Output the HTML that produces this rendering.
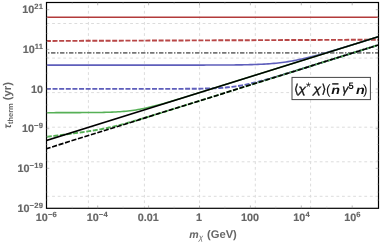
<!DOCTYPE html>
<html><head><meta charset="utf-8"><title>plot</title><style>html,body{margin:0;padding:0;background:#fff}body{width:382px;height:245px;overflow:hidden}</style></head><body>
<svg width="382" height="245" viewBox="0 0 382 245" style="display:block;text-rendering:geometricPrecision;will-change:transform">
<rect width="382" height="245" fill="#fff"/>
<defs><clipPath id="c"><rect x="46.5" y="2.5" width="332.0" height="205.8"/></clipPath></defs>
<g stroke="#dcdcdc" stroke-width="1" stroke-dasharray="2.8 2.775" fill="none">
<path d="M88.4 208.75 V2.5"/>
<path d="M144.4 208.75 V2.5"/>
<path d="M199.6 208.75 V2.5"/>
<path d="M255.3 208.75 V2.5"/>
<path d="M310.6 208.75 V2.5"/>
<path d="M46.55 23.5 H378.5"/>
<path d="M46.55 58.1 H378.5"/>
<path d="M46.55 92.6 H378.5"/>
<path d="M46.55 127.2 H378.5"/>
<path d="M46.55 161.8 H378.5"/>
<path d="M46.55 196.3 H378.5"/>
</g>
<g clip-path="url(#c)" fill="none" stroke-linecap="butt">
<path d="M46.2 17.3 H381" stroke="#b23a3a" stroke-width="1.4"/>
<path d="M45.9 40.95 L381 39.7" stroke="#b84646" stroke-width="1.9" stroke-dasharray="5.0 1.63"/>
<path d="M42.04 52.9 H381" stroke="#767676" stroke-width="1.8" stroke-dasharray="4.4 1.625 1.35 1.625"/>
<path d="M44.00 65.10 L46.00 65.10 L48.00 65.10 L50.00 65.10 L52.00 65.10 L54.00 65.10 L56.00 65.10 L58.00 65.10 L60.00 65.10 L62.00 65.10 L64.00 65.10 L66.00 65.10 L68.00 65.10 L70.00 65.10 L72.00 65.10 L74.00 65.10 L76.00 65.10 L78.00 65.10 L80.00 65.10 L82.00 65.10 L84.00 65.10 L86.00 65.10 L88.00 65.10 L90.00 65.10 L92.00 65.10 L94.00 65.10 L96.00 65.10 L98.00 65.10 L100.00 65.10 L102.00 65.10 L104.00 65.10 L106.00 65.10 L108.00 65.10 L110.00 65.10 L112.00 65.10 L114.00 65.10 L116.00 65.10 L118.00 65.10 L120.00 65.10 L122.00 65.10 L124.00 65.10 L126.00 65.10 L128.00 65.10 L130.00 65.10 L132.00 65.10 L134.00 65.10 L136.00 65.10 L138.00 65.10 L140.00 65.10 L142.00 65.10 L144.00 65.10 L146.00 65.10 L148.00 65.10 L150.00 65.10 L152.00 65.10 L154.00 65.10 L156.00 65.10 L158.00 65.10 L160.00 65.10 L162.00 65.10 L164.00 65.10 L166.00 65.10 L168.00 65.10 L170.00 65.10 L172.00 65.10 L174.00 65.10 L176.00 65.10 L178.00 65.10 L180.00 65.09 L182.00 65.09 L184.00 65.09 L186.00 65.09 L188.00 65.09 L190.00 65.09 L192.00 65.09 L194.00 65.09 L196.00 65.09 L198.00 65.08 L200.00 65.08 L202.00 65.08 L204.00 65.08 L206.00 65.07 L208.00 65.07 L210.00 65.06 L212.00 65.06 L214.00 65.05 L216.00 65.05 L218.00 65.04 L220.00 65.03 L222.00 65.02 L224.00 65.01 L226.00 65.00 L228.00 64.99 L230.00 64.97 L232.00 64.96 L234.00 64.94 L236.00 64.92 L238.00 64.89 L240.00 64.87 L242.00 64.84 L244.00 64.80 L246.00 64.76 L248.00 64.72 L250.00 64.67 L252.00 64.61 L254.00 64.55 L256.00 64.48 L258.00 64.40 L260.00 64.32 L262.00 64.22 L264.00 64.11 L266.00 63.99 L268.00 63.86 L270.00 63.71 L272.00 63.55 L274.00 63.37 L276.00 63.18 L278.00 62.97 L280.00 62.74 L282.00 62.49 L284.00 62.22 L286.00 61.94 L288.00 61.63 L290.00 61.31 L292.00 60.96 L294.00 60.60 L296.00 60.21 L298.00 59.81 L300.00 59.39 L302.00 58.95 L304.00 58.50 L306.00 58.03 L308.00 57.54 L310.00 57.05 L312.00 56.54 L314.00 56.02 L316.00 55.49 L318.00 54.94 L320.00 54.39 L322.00 53.84 L324.00 53.27 L326.00 52.70 L328.00 52.12 L330.00 51.54 L332.00 50.95 L334.00 50.36 L336.00 49.76 L338.00 49.17 L340.00 48.56 L342.00 47.96 L344.00 47.35 L346.00 46.74 L348.00 46.13 L350.00 45.52 L352.00 44.91 L354.00 44.29 L356.00 43.67 L358.00 43.06 L360.00 42.44 L362.00 41.82 L364.00 41.20 L366.00 40.58 L368.00 39.96 L370.00 39.34 L372.00 38.71 L374.00 38.09 L376.00 37.47 L378.00 36.85 L380.00 36.22" stroke="#5e5ebb" stroke-width="1.6"/>
<path d="M45.90 88.90 L47.90 88.90 L49.90 88.90 L51.90 88.90 L53.90 88.90 L55.90 88.90 L57.90 88.90 L59.90 88.90 L61.90 88.90 L63.90 88.90 L65.90 88.90 L67.90 88.90 L69.90 88.90 L71.90 88.90 L73.90 88.90 L75.90 88.90 L77.90 88.90 L79.90 88.90 L81.90 88.90 L83.90 88.90 L85.90 88.90 L87.90 88.90 L89.90 88.90 L91.90 88.90 L93.90 88.90 L95.90 88.90 L97.90 88.90 L99.90 88.90 L101.90 88.90 L103.90 88.90 L105.90 88.90 L107.90 88.90 L109.90 88.90 L111.90 88.90 L113.90 88.90 L115.90 88.90 L117.90 88.90 L119.90 88.90 L121.90 88.90 L123.90 88.90 L125.90 88.90 L127.90 88.90 L129.90 88.90 L131.90 88.90 L133.90 88.90 L135.90 88.90 L137.90 88.90 L139.90 88.90 L141.90 88.90 L143.90 88.90 L145.90 88.90 L147.90 88.90 L149.90 88.89 L151.90 88.89 L153.90 88.89 L155.90 88.89 L157.90 88.89 L159.90 88.89 L161.90 88.89 L163.90 88.89 L165.90 88.88 L167.90 88.88 L169.90 88.88 L171.90 88.87 L173.90 88.87 L175.90 88.86 L177.90 88.86 L179.90 88.85 L181.90 88.84 L183.90 88.83 L185.90 88.82 L187.90 88.81 L189.90 88.79 L191.90 88.78 L193.90 88.76 L195.90 88.73 L197.90 88.71 L199.90 88.68 L201.90 88.64 L203.90 88.60 L205.90 88.55 L207.90 88.50 L209.90 88.44 L211.90 88.36 L213.90 88.28 L215.90 88.19 L217.90 88.08 L219.90 87.96 L221.90 87.83 L223.90 87.67 L225.90 87.50 L227.90 87.31 L229.90 87.10 L231.90 86.87 L233.90 86.61 L235.90 86.33 L237.90 86.03 L239.90 85.70 L241.90 85.35 L243.90 84.98 L245.90 84.58 L247.90 84.17 L249.90 83.73 L251.90 83.27 L253.90 82.79 L255.90 82.30 L257.90 81.80 L259.90 81.27 L261.90 80.74 L263.90 80.20 L265.90 79.64 L267.90 79.08 L269.90 78.51 L271.90 77.93 L273.90 77.34 L275.90 76.75 L277.90 76.16 L279.90 75.56 L281.90 74.95 L283.90 74.35 L285.90 73.74 L287.90 73.13 L289.90 72.52 L291.90 71.90 L293.90 71.29 L295.90 70.67 L297.90 70.05 L299.90 69.43 L301.90 68.81 L303.90 68.19 L305.90 67.57 L307.90 66.95 L309.90 66.33 L311.90 65.70 L313.90 65.08 L315.90 64.46 L317.90 63.83 L319.90 63.21 L321.90 62.59 L323.90 61.96 L325.90 61.34 L327.90 60.71 L329.90 60.09 L331.90 59.47 L333.90 58.84 L335.90 58.22 L337.90 57.59 L339.90 56.97 L341.90 56.34 L343.90 55.72 L345.90 55.09 L347.90 54.47 L349.90 53.84 L351.90 53.22 L353.90 52.59 L355.90 51.97 L357.90 51.34 L359.90 50.72 L361.90 50.09 L363.90 49.47 L365.90 48.84 L367.90 48.22 L369.90 47.59 L371.90 46.97 L373.90 46.34 L375.90 45.72 L377.90 45.09 L379.90 44.47" stroke="#5e5ebb" stroke-width="1.9" stroke-dasharray="5.0 1.63"/>
<path d="M44.00 112.65 L46.00 112.65 L48.00 112.65 L50.00 112.65 L52.00 112.65 L54.00 112.65 L56.00 112.64 L58.00 112.64 L60.00 112.64 L62.00 112.64 L64.00 112.64 L66.00 112.64 L68.00 112.63 L70.00 112.63 L72.00 112.63 L74.00 112.62 L76.00 112.62 L78.00 112.62 L80.00 112.61 L82.00 112.60 L84.00 112.59 L86.00 112.58 L88.00 112.57 L90.00 112.56 L92.00 112.54 L94.00 112.52 L96.00 112.50 L98.00 112.47 L100.00 112.44 L102.00 112.41 L104.00 112.37 L106.00 112.32 L108.00 112.26 L110.00 112.20 L112.00 112.12 L114.00 112.04 L116.00 111.94 L118.00 111.83 L120.00 111.70 L122.00 111.55 L124.00 111.38 L126.00 111.20 L128.00 110.99 L130.00 110.76 L132.00 110.50 L134.00 110.22 L136.00 109.91 L138.00 109.58 L140.00 109.23 L142.00 108.84 L144.00 108.44 L146.00 108.01 L148.00 107.56 L150.00 107.09 L152.00 106.60 L154.00 106.10 L156.00 105.58 L158.00 105.05 L160.00 104.50 L162.00 103.95 L164.00 103.38 L166.00 102.81 L168.00 102.23 L170.00 101.64 L172.00 101.05 L174.00 100.45 L176.00 99.85 L178.00 99.25 L180.00 98.64 L182.00 98.03 L184.00 97.42 L186.00 96.80 L188.00 96.19 L190.00 95.57 L192.00 94.95 L194.00 94.33 L196.00 93.71 L198.00 93.09 L200.00 92.47 L202.00 91.85 L204.00 91.22 L206.00 90.60 L208.00 89.98 L210.00 89.35 L212.00 88.73 L214.00 88.11 L216.00 87.48 L218.00 86.86 L220.00 86.23 L222.00 85.61 L224.00 84.98 L226.00 84.36 L228.00 83.74 L230.00 83.11 L232.00 82.49 L234.00 81.86 L236.00 81.24 L238.00 80.61 L240.00 79.99 L242.00 79.36 L244.00 78.74 L246.00 78.11 L248.00 77.49 L250.00 76.86 L252.00 76.24 L254.00 75.61 L256.00 74.99 L258.00 74.36 L260.00 73.74 L262.00 73.11 L264.00 72.49 L266.00 71.86 L268.00 71.24 L270.00 70.61 L272.00 69.99 L274.00 69.36 L276.00 68.74 L278.00 68.11 L280.00 67.49 L282.00 66.86 L284.00 66.24 L286.00 65.61 L288.00 64.99 L290.00 64.36 L292.00 63.74 L294.00 63.11 L296.00 62.49 L298.00 61.86 L300.00 61.24 L302.00 60.61 L304.00 59.99 L306.00 59.36 L308.00 58.74 L310.00 58.11 L312.00 57.49 L314.00 56.86 L316.00 56.24 L318.00 55.61 L320.00 54.99 L322.00 54.36 L324.00 53.74 L326.00 53.11 L328.00 52.49 L330.00 51.86 L332.00 51.24 L334.00 50.61 L336.00 49.99 L338.00 49.36 L340.00 48.74 L342.00 48.11 L344.00 47.49 L346.00 46.86 L348.00 46.24 L350.00 45.61 L352.00 44.99 L354.00 44.36 L356.00 43.74 L358.00 43.11 L360.00 42.49 L362.00 41.86 L364.00 41.24 L366.00 40.61 L368.00 39.99 L370.00 39.36 L372.00 38.74 L374.00 38.11 L376.00 37.49 L378.00 36.86 L380.00 36.24" stroke="#56b056" stroke-width="1.55"/>
<path d="M46.20 136.89 L47.20 136.77 L48.20 136.64 L49.20 136.51 L50.20 136.39 L51.20 136.26 L52.20 136.14 L53.20 136.01 L54.20 135.88 L55.20 135.76 L56.20 135.63 L57.20 135.50 L58.20 135.38 L59.20 135.25 L60.20 135.12 L61.20 134.99 L62.20 134.86 L63.20 134.74 L64.20 134.61 L65.20 134.48 L66.20 134.35 L67.20 134.22 L68.20 134.09 L69.20 133.96 L70.20 133.83 L71.20 133.70 L72.20 133.57 L73.20 133.43 L74.20 133.30 L75.20 133.17 L76.20 133.03 L77.20 132.90 L78.20 132.76 L79.20 132.63 L80.20 132.49 L81.20 132.35 L82.20 132.21 L83.20 132.07 L84.20 131.92 L85.20 131.78 L86.20 131.63 L87.20 131.48 L88.20 131.33 L89.20 131.18 L90.20 131.03 L91.20 130.87 L92.20 130.72 L93.20 130.56 L94.20 130.39 L95.20 130.23 L96.20 130.06 L97.20 129.89 L98.20 129.71 L99.20 129.53 L100.20 129.35 L101.20 129.17 L102.20 128.98 L103.20 128.79 L104.20 128.59 L105.20 128.39 L106.20 128.19 L107.20 127.98 L108.20 127.77 L109.20 127.55 L110.20 127.33 L111.20 127.11 L112.20 126.88 L113.20 126.65 L114.20 126.41 L115.20 126.17 L116.20 125.93 L117.20 125.68 L118.20 125.43 L119.20 125.17 L120.20 124.92 L121.20 124.65 L122.20 124.39 L123.20 124.12 L124.20 123.85 L125.20 123.58 L126.20 123.30 L127.20 123.02 L128.20 122.74 L129.20 122.46 L130.20 122.17 L131.20 121.89 L132.20 121.60 L133.20 121.31 L134.20 121.01 L135.20 120.72 L136.20 120.43 L137.20 120.13 L138.20 119.83 L139.20 119.53 L140.20 119.23 L141.20 118.93 L142.20 118.63 L143.20 118.33 L144.20 118.02 L145.20 117.72 L146.20 117.41 L147.20 117.11 L148.20 116.80 L149.20 116.50 L150.20 116.19 L151.20 115.88 L152.20 115.57 L153.20 115.27 L154.20 114.96 L155.20 114.65 L156.20 114.34 L157.20 114.03 L158.20 113.72 L159.20 113.41 L160.20 113.10 L161.20 112.79 L162.20 112.48 L163.20 112.17 L164.20 111.86 L165.20 111.55 L166.20 111.23 L167.20 110.92 L168.20 110.61 L169.20 110.30 L170.20 109.99 L171.20 109.68 L172.20 109.37 L173.20 109.05 L174.20 108.74 L175.20 108.43 L176.20 108.12 L177.20 107.81 L178.20 107.49 L179.20 107.18 L180.20 106.87 L181.20 106.56 L182.20 106.25 L183.20 105.93 L184.20 105.62 L185.20 105.31 L186.20 105.00 L187.20 104.69 L188.20 104.37 L189.20 104.06 L190.20 103.75 L191.20 103.44 L192.20 103.12 L193.20 102.81 L194.20 102.50 L195.20 102.19 L196.20 101.87 L197.20 101.56 L198.20 101.25 L199.20 100.94 L200.20 100.62 L201.20 100.31 L202.20 100.00 L203.20 99.69 L204.20 99.37 L205.20 99.06 L206.20 98.75 L207.20 98.44 L208.20 98.12 L209.20 97.81 L210.20 97.50 L211.20 97.19 L212.20 96.87 L213.20 96.56 L214.20 96.25 L215.20 95.94 L216.20 95.62 L217.20 95.31 L218.20 95.00 L219.20 94.69 L220.20 94.37 L221.20 94.06 L222.20 93.75 L223.20 93.44 L224.20 93.12 L225.20 92.81 L226.20 92.50 L227.20 92.19 L228.20 91.87 L229.20 91.56 L230.20 91.25 L231.20 90.94 L232.20 90.62 L233.20 90.31 L234.20 90.00 L235.20 89.69 L236.20 89.37 L237.20 89.06 L238.20 88.75 L239.20 88.44 L240.20 88.12 L241.20 87.81 L242.20 87.50 L243.20 87.19 L244.20 86.87 L245.20 86.56 L246.20 86.25 L247.20 85.94 L248.20 85.62 L249.20 85.31 L250.20 85.00 L251.20 84.69 L252.20 84.37 L253.20 84.06 L254.20 83.75 L255.20 83.44 L256.20 83.12 L257.20 82.81 L258.20 82.50 L259.20 82.19 L260.20 81.87 L261.20 81.56 L262.20 81.25 L263.20 80.94 L264.20 80.62 L265.20 80.31 L266.20 80.00 L267.20 79.69 L268.20 79.37 L269.20 79.06 L270.20 78.75 L271.20 78.44 L272.20 78.12 L273.20 77.81 L274.20 77.50 L275.20 77.19 L276.20 76.87 L277.20 76.56 L278.20 76.25 L279.20 75.94 L280.20 75.62 L281.20 75.31 L282.20 75.00 L283.20 74.69 L284.20 74.37 L285.20 74.06 L286.20 73.75 L287.20 73.44 L288.20 73.12 L289.20 72.81 L290.20 72.50 L291.20 72.19 L292.20 71.87 L293.20 71.56 L294.20 71.25 L295.20 70.94 L296.20 70.62 L297.20 70.31 L298.20 70.00 L299.20 69.69 L300.20 69.37 L301.20 69.06 L302.20 68.75 L303.20 68.44 L304.20 68.12 L305.20 67.81 L306.20 67.50 L307.20 67.19 L308.20 66.87 L309.20 66.56 L310.20 66.25 L311.20 65.94 L312.20 65.62 L313.20 65.31 L314.20 65.00 L315.20 64.69 L316.20 64.37 L317.20 64.06 L318.20 63.75 L319.20 63.44 L320.20 63.12 L321.20 62.81 L322.20 62.50 L323.20 62.19 L324.20 61.87 L325.20 61.56 L326.20 61.25 L327.20 60.94 L328.20 60.62 L329.20 60.31 L330.20 60.00 L331.20 59.69 L332.20 59.37 L333.20 59.06 L334.20 58.75 L335.20 58.44 L336.20 58.12 L337.20 57.81 L338.20 57.50 L339.20 57.19 L340.20 56.87 L341.20 56.56 L342.20 56.25 L343.20 55.94 L344.20 55.62 L345.20 55.31 L346.20 55.00 L347.20 54.69 L348.20 54.37 L349.20 54.06 L350.20 53.75 L351.20 53.44 L352.20 53.12 L353.20 52.81 L354.20 52.50 L355.20 52.19 L356.20 51.87 L357.20 51.56 L358.20 51.25 L359.20 50.94 L360.20 50.62 L361.20 50.31 L362.20 50.00 L363.20 49.69 L364.20 49.37 L365.20 49.06 L366.20 48.75 L367.20 48.44 L368.20 48.12 L369.20 47.81 L370.20 47.50 L371.20 47.19 L372.20 46.87 L373.20 46.56 L374.20 46.25 L375.20 45.94 L376.20 45.62 L377.20 45.31 L378.20 45.00 L379.20 44.69 L380.20 44.37" stroke="#56b056" stroke-width="1.9" stroke-dasharray="5.0 1.63" stroke-dashoffset="6.02"/>
<path d="M44 141.24 L381 35.93" stroke="#000" stroke-width="1.55"/>
<path d="M44 149.44 L381 44.12" stroke="#000" stroke-width="1.6" stroke-dasharray="5.1 1.67" stroke-dashoffset="5.05"/>
</g>
<rect x="46.5" y="2.5" width="332.0" height="205.8" fill="none" stroke="#000" stroke-width="1.2"/>
<g stroke="#8c8c8c" stroke-width="0.6">
<path d="M46.5 9.7 h2.8 M378.5 9.7 h-2.8"/>
<path d="M46.5 49.4 h2.8 M378.5 49.4 h-2.8"/>
<path d="M46.5 89.0 h2.8 M378.5 89.0 h-2.8"/>
<path d="M46.5 128.7 h2.8 M378.5 128.7 h-2.8"/>
<path d="M46.5 168.3 h2.8 M378.5 168.3 h-2.8"/>
<path d="M97.7 208.3 v-2.8 M97.7 2.5 v2.8"/>
<path d="M148.6 208.3 v-2.8 M148.6 2.5 v2.8"/>
<path d="M199.5 208.3 v-2.8 M199.5 2.5 v2.8"/>
<path d="M250.4 208.3 v-2.8 M250.4 2.5 v2.8"/>
<path d="M301.3 208.3 v-2.8 M301.3 2.5 v2.8"/>
<path d="M352.2 208.3 v-2.8 M352.2 2.5 v2.8"/>
</g>
<g stroke="#b5b5b5" stroke-width="0.5">
<path d="M46.5 200.1 h1.7 M378.5 200.1 h-1.7"/>
<path d="M46.5 192.1 h1.7 M378.5 192.1 h-1.7"/>
<path d="M46.5 184.2 h1.7 M378.5 184.2 h-1.7"/>
<path d="M46.5 176.3 h1.7 M378.5 176.3 h-1.7"/>
<path d="M46.5 160.4 h1.7 M378.5 160.4 h-1.7"/>
<path d="M46.5 152.5 h1.7 M378.5 152.5 h-1.7"/>
<path d="M46.5 144.5 h1.7 M378.5 144.5 h-1.7"/>
<path d="M46.5 136.6 h1.7 M378.5 136.6 h-1.7"/>
<path d="M46.5 120.7 h1.7 M378.5 120.7 h-1.7"/>
<path d="M46.5 112.8 h1.7 M378.5 112.8 h-1.7"/>
<path d="M46.5 104.9 h1.7 M378.5 104.9 h-1.7"/>
<path d="M46.5 97.0 h1.7 M378.5 97.0 h-1.7"/>
<path d="M46.5 81.1 h1.7 M378.5 81.1 h-1.7"/>
<path d="M46.5 73.2 h1.7 M378.5 73.2 h-1.7"/>
<path d="M46.5 65.2 h1.7 M378.5 65.2 h-1.7"/>
<path d="M46.5 57.3 h1.7 M378.5 57.3 h-1.7"/>
<path d="M46.5 41.4 h1.7 M378.5 41.4 h-1.7"/>
<path d="M46.5 33.5 h1.7 M378.5 33.5 h-1.7"/>
<path d="M46.5 25.6 h1.7 M378.5 25.6 h-1.7"/>
<path d="M46.5 17.6 h1.7 M378.5 17.6 h-1.7"/>
<path d="M72.2 208.3 v-1.7 M72.2 2.5 v1.7"/>
<path d="M123.1 208.3 v-1.7 M123.1 2.5 v1.7"/>
<path d="M174.1 208.3 v-1.7 M174.1 2.5 v1.7"/>
<path d="M224.9 208.3 v-1.7 M224.9 2.5 v1.7"/>
<path d="M275.8 208.3 v-1.7 M275.8 2.5 v1.7"/>
<path d="M326.8 208.3 v-1.7 M326.8 2.5 v1.7"/>
</g>
<text x="43.1" y="13.4" text-anchor="end" font-family='"Liberation Sans", sans-serif' font-weight="bold" font-size="10.8" fill="#666" stroke="#666" stroke-width="0.15">10<tspan font-size="7.6" dy="-4.2" letter-spacing="0.2">21</tspan></text>
<text x="43.1" y="53.1" text-anchor="end" font-family='"Liberation Sans", sans-serif' font-weight="bold" font-size="10.8" fill="#666" stroke="#666" stroke-width="0.15">10<tspan font-size="7.6" dy="-4.2" letter-spacing="0.2">11</tspan></text>
<text x="43.1" y="92.7" text-anchor="end" font-family='"Liberation Sans", sans-serif' font-weight="bold" font-size="10.8" fill="#666" stroke="#666" stroke-width="0.15">10</text>
<text x="43.1" y="132.4" text-anchor="end" font-family='"Liberation Sans", sans-serif' font-weight="bold" font-size="10.8" fill="#666" stroke="#666" stroke-width="0.15">10<tspan font-size="7.6" dy="-4.2" letter-spacing="0.2">−9</tspan></text>
<text x="43.1" y="172.0" text-anchor="end" font-family='"Liberation Sans", sans-serif' font-weight="bold" font-size="10.8" fill="#666" stroke="#666" stroke-width="0.15">10<tspan font-size="7.6" dy="-4.2" letter-spacing="0.2">−19</tspan></text>
<text x="43.1" y="211.7" text-anchor="end" font-family='"Liberation Sans", sans-serif' font-weight="bold" font-size="10.8" fill="#666" stroke="#666" stroke-width="0.15">10<tspan font-size="7.6" dy="-4.2" letter-spacing="0.2">−29</tspan></text>
<text x="46.4" y="220.7" text-anchor="middle" font-family='"Liberation Sans", sans-serif' font-weight="bold" font-size="10.8" fill="#666" stroke="#666" stroke-width="0.15">10<tspan font-size="7.6" dy="-4.2" letter-spacing="0.2">−6</tspan></text>
<text x="97.3" y="220.7" text-anchor="middle" font-family='"Liberation Sans", sans-serif' font-weight="bold" font-size="10.8" fill="#666" stroke="#666" stroke-width="0.15">10<tspan font-size="7.6" dy="-4.2" letter-spacing="0.2">−4</tspan></text>
<text x="148.2" y="220.7" text-anchor="middle" font-family='"Liberation Sans", sans-serif' font-weight="bold" font-size="10.8" fill="#666" stroke="#666" stroke-width="0.15">0.01</text>
<text x="199.1" y="220.7" text-anchor="middle" font-family='"Liberation Sans", sans-serif' font-weight="bold" font-size="10.8" fill="#666" stroke="#666" stroke-width="0.15">1</text>
<text x="250.0" y="220.7" text-anchor="middle" font-family='"Liberation Sans", sans-serif' font-weight="bold" font-size="10.8" fill="#666" stroke="#666" stroke-width="0.15">100</text>
<text x="301.6" y="220.7" text-anchor="middle" font-family='"Liberation Sans", sans-serif' font-weight="bold" font-size="10.8" fill="#666" stroke="#666" stroke-width="0.15">10<tspan font-size="7.6" dy="-4.2" letter-spacing="0.2">4</tspan></text>
<text x="352.5" y="220.7" text-anchor="middle" font-family='"Liberation Sans", sans-serif' font-weight="bold" font-size="10.8" fill="#666" stroke="#666" stroke-width="0.15">10<tspan font-size="7.6" dy="-4.2" letter-spacing="0.2">6</tspan></text>
<text x="189.3" y="238.3" font-family='"Liberation Sans", sans-serif' font-weight="bold" font-size="11.2" fill="#666"><tspan font-style="italic" font-size="10.6">m</tspan><tspan font-size="8" dy="1.3" font-style="italic" font-weight="normal">χ</tspan><tspan dy="-1.3" dx="0.8"> (GeV)</tspan></text>
<text transform="translate(11.4,128.4) rotate(-90)" font-family='"Liberation Sans", sans-serif' font-weight="bold" font-size="10.5" fill="#666"><tspan font-style="italic">τ</tspan><tspan font-size="7.5" dy="2">therm</tspan><tspan dy="-2" font-size="11.2"> (yr)</tspan></text>
<rect x="292" y="77.4" width="78.4" height="22.2" fill="#fff" stroke="#444" stroke-width="1"/>
<text transform="translate(293.9,92.6) scale(1,1)" font-family='"DejaVu Sans", sans-serif' font-size="12.3" fill="#111" stroke="#111" stroke-width="0.3">⟨</text>
<text transform="translate(298.2,92.5) scale(1.07,0.88)" font-family='"Liberation Sans", sans-serif' font-size="13.5" fill="#111" font-style="italic" stroke="#111" stroke-width="0.3">χ</text>
<text transform="translate(305.9,91.3) scale(1,1)" font-family='"Liberation Sans", sans-serif' font-size="12.5" fill="#111" >*</text>
<text transform="translate(313.2,92.5) scale(1.07,0.88)" font-family='"Liberation Sans", sans-serif' font-size="13.5" fill="#111" font-style="italic" stroke="#111" stroke-width="0.3">χ</text>
<text transform="translate(321.5,92.6) scale(1,1)" font-family='"DejaVu Sans", sans-serif' font-size="12.3" fill="#111" stroke="#111" stroke-width="0.3">⟩</text>
<text transform="translate(326.0,93.5) scale(1,1)" font-family='"Liberation Sans", sans-serif' font-size="13.5" fill="#111" >(</text>
<text transform="translate(331.3,93.5) scale(1.06,0.88)" font-family='"Liberation Sans", sans-serif' font-size="13.5" fill="#111" font-style="italic" font-weight="bold">n</text>
<text transform="translate(342.2,93.2) scale(0.92,0.9)" font-family='"Liberation Sans", sans-serif' font-size="13.5" fill="#111" font-style="italic" stroke="#111" stroke-width="0.3">γ</text>
<text transform="translate(348.4,88.9) scale(1,1)" font-family='"Liberation Sans", sans-serif' font-size="9.3" fill="#111" font-weight="bold">5</text>
<text transform="translate(356.1,93.5) scale(1.06,0.88)" font-family='"Liberation Sans", sans-serif' font-size="13.5" fill="#111" font-style="italic" font-weight="bold">n</text>
<text transform="translate(362.9,93.5) scale(1,1)" font-family='"Liberation Sans", sans-serif' font-size="13.5" fill="#111" >)</text>
<path d="M332.2 83.9 H338.5" stroke="#111" stroke-width="1.4"/>
</svg>
</body></html>
